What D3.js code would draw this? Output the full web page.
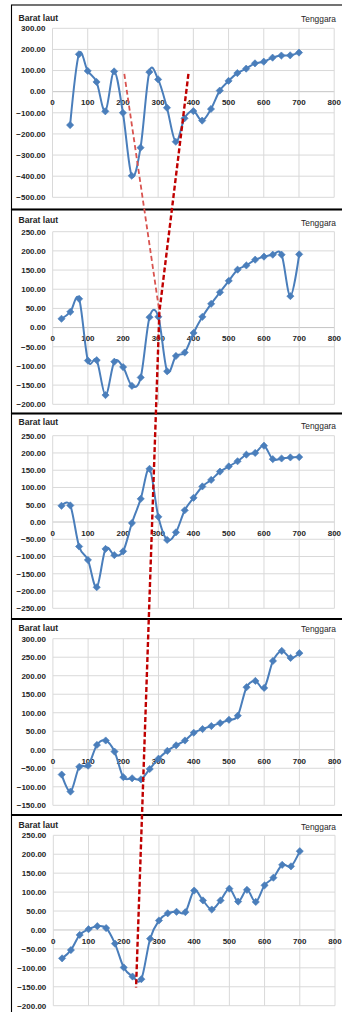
<!DOCTYPE html>
<html>
<head>
<meta charset="utf-8">
<script src="https://cdn.jsdelivr.net/npm/d3@7"></script>
<style>
  html, body { margin: 0; padding: 0; background: #fff; }
  svg { display: block; }
  text { font-family: "Liberation Sans", Arial, sans-serif; fill: #262626; }
</style>
</head>
<body>
<svg id="chart" width="342" height="1012"></svg>
<script>
// ---------- DATA ----------
const xValuesTop = [50,75,100,125,150,175,200,225,250,275,300,325,350,375,400,425,450,475,500,525,550,575,600,625,650,675,700];
const xValues = [25,50,75,100,125,150,175,200,225,250,275,300,325,350,375,400,425,450,475,500,525,550,575,600,625,650,675,700];

const series1 = [-158,177,98,46,-93,96,-100,-398,-265,93,58,-76,-237,-126,-92,-137,-82,5,51,88,109,134,142,161,171,172,185];
const series2 = [23,41,75,-86,-85,-176,-89,-103,-152,-130,27,28,-114,-74,-65,-14,28,62,92,122,151,162,177,185,190,190,82,191];
const series3 = [47,48,-71,-110,-189,-78,-96,-85,-3,67,154,15,-52,-30,34,70,103,122,146,161,176,195,200,221,182,184,187,188];
const series4 = [-67,-113,-46,-43,13,25,-5,-74,-77,-80,-52,-24,-3,12,25,46,56,64,72,81,92,169,186,167,240,267,248,261];
const series5 = [-75,-53,-13,2,10,5,-36,-99,-123,-130,-23,25,44,48,47,104,78,54,78,109,75,106,74,118,138,172,168,208];

const xTicks = [0,100,200,300,400,500,600,700,800];
const yTicks1 = [300,200,100,0,-100,-200,-300,-400,-500];
const yTicks2 = [250,200,150,100,50,0,-50,-100,-150,-200];
const yTicks3 = [250,200,150,100,50,0,-50,-100,-150,-200,-250];
const yTicks4 = [300,250,200,150,100,50,0,-50,-100,-150];
const yTicks5 = [250,200,150,100,50,0,-50,-100,-150,-200];

const leftLabel = "Barat laut";
const rightLabel = "Tenggara";

// annotation lines (data coords within a panel)
const lightLine = [{p:0,x:204,y:84},{p:1,x:303,y:41}];
const darkLine  = [{p:0,x:386,y:84},{p:1,x:303,y:41},{p:4,x:235,y:-152}];

// ---------- LAYOUT ----------
const panels = [
  {xs:xValuesTop, ys:series1, ticks:yTicks1, boxTop:5,     boxBot:209.5, yTop:28.3,  yBot:197.3,  x0:52.5, x1:334.2, labY:21,  rLabY:22},
  {xs:xValues,    ys:series2, ticks:yTicks2, boxTop:209.5, boxBot:413.5, yTop:231.7, yBot:404.3,  x0:52.7, x1:334.4, labY:223, rLabY:226},
  {xs:xValues,    ys:series3, ticks:yTicks3, boxTop:413.5, boxBot:619,   yTop:435.7, yBot:608.3,  x0:52.7, x1:334.4, labY:425, rLabY:428.5},
  {xs:xValues,    ys:series4, ticks:yTicks4, boxTop:619,   boxBot:815,   yTop:638.7, yBot:805.3,  x0:52.9, x1:334.6, labY:630.5, rLabY:632},
  {xs:xValues,    ys:series5, ticks:yTicks5, boxTop:815,   boxBot:1020,  yTop:835.3, yBot:1005.7, x0:53.3, x1:335,   labY:828, rLabY:829.5}
];

const svg = d3.select("#chart");
const blue = "#4a7ebb";

panels.forEach(p => {
  const yMax = d3.max(p.ticks), yMin = d3.min(p.ticks);
  p.x = d3.scaleLinear().domain([0, 800]).range([p.x0, p.x1]);
  p.y = d3.scaleLinear().domain([yMin, yMax]).range([p.yBot, p.yTop]);
  const g = svg.append("g");

  g.append("rect").attr("x", 11.5).attr("y", p.boxTop).attr("width", 340).attr("height", p.boxBot - p.boxTop)
    .attr("fill", "#fff").attr("stroke", "#000").attr("stroke-width", 1.1);

  g.selectAll(".hg").data(p.ticks).join("line")
    .attr("x1", p.x(0)).attr("x2", p.x(800))
    .attr("y1", d => p.y(d)).attr("y2", d => p.y(d))
    .attr("stroke", d => d === 0 ? "#c4c4c4" : "#d9d9d9").attr("stroke-width", 1);
  g.selectAll(".vg").data(xTicks).join("line")
    .attr("x1", d => p.x(d)).attr("x2", d => p.x(d))
    .attr("y1", p.y(yMax)).attr("y2", p.y(yMin))
    .attr("stroke", "#d9d9d9").attr("stroke-width", 1);

  g.selectAll(".yl").data(p.ticks).join("text")
    .attr("x", p.x0 - 7).attr("y", d => p.y(d)).attr("dy", "0.35em")
    .attr("text-anchor", "end").attr("font-size", 8).attr("font-weight", "bold")
    .text(d => d3.format(".2f")(d));
  g.selectAll(".xl").data(xTicks).join("text")
    .attr("x", d => p.x(d)).attr("y", p.y(0) + 11).attr("dy", "0.35em")
    .attr("text-anchor", "middle").attr("font-size", 8).attr("font-weight", "bold")
    .text(d => d);

  g.append("text").attr("x", 18.5).attr("y", p.labY).attr("font-size", 8.6).attr("font-weight", "bold").text(leftLabel);
  g.append("text").attr("x", 336).attr("y", p.rLabY).attr("text-anchor", "end").attr("font-size", 8.4).text(rightLabel);

  const pts = p.xs.map((x, i) => [x, p.ys[i]]);
  const line = d3.line().x(d => p.x(d[0])).y(d => p.y(d[1])).curve(d3.curveCardinal.tension(0));
  g.append("path").attr("d", line(pts)).attr("fill", "none").attr("stroke", blue).attr("stroke-width", 2);
  const marker = d3.symbol().type(d3.symbolSquare).size(26);
  g.selectAll(".m").data(pts).join("path")
    .attr("transform", d => `translate(${p.x(d[0])},${p.y(d[1])}) rotate(45)`)
    .attr("d", marker).attr("fill", blue).attr("stroke", blue).attr("stroke-width", 0.6);
});

[209.5, 413.5, 619, 815].forEach(yy => {
  svg.append("line").attr("x1", 11).attr("x2", 342).attr("y1", yy).attr("y2", yy)
    .attr("stroke", "#000").attr("stroke-width", 2.2);
});

const annoLine = d3.line().x(d => panels[d.p].x(d.x)).y(d => panels[d.p].y(d.y));
svg.append("path").attr("d", annoLine(lightLine)).attr("fill", "none")
  .attr("stroke", "#d9534f").attr("stroke-width", 1.8).attr("stroke-dasharray", "5,3");
svg.append("path").attr("d", annoLine(darkLine)).attr("fill", "none")
  .attr("stroke", "#c00000").attr("stroke-width", 2.4).attr("stroke-dasharray", "5,2.5");
</script>
</body>
</html>
